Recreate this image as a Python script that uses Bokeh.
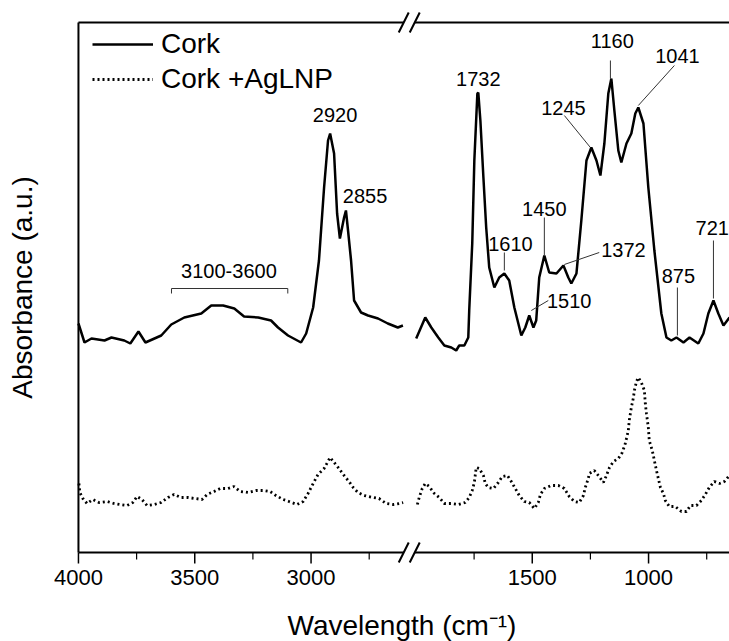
import numpy as np
from bokeh.plotting import figure
from bokeh.models import (ColumnDataSource, FixedTicker, LinearAxis, Range1d,
                          Legend, LegendItem)
from bokeh.core.properties import value
from bokeh.embed import file_html
from bokeh.resources import INLINE

# ---------------- data (wavenumber cm^-1, absorbance a.u.) ----------------
cork_hi_w = [4000, 3974, 3944, 3888, 3858, 3803, 3777, 3742, 3712, 3644, 3601, 3545,
             3472, 3429, 3378, 3330, 3288, 3227, 3172, 3142, 3099, 3043, 3021, 2991,
             2966, 2944, 2927, 2918, 2901, 2888, 2876, 2858, 2850, 2841, 2828, 2815,
             2785, 2755, 2712, 2670, 2627, 2605]
cork_hi_a = [2.29, 2.10, 2.14, 2.12, 2.15, 2.12, 2.09, 2.21, 2.10, 2.17, 2.28, 2.35,
             2.39, 2.47, 2.47, 2.44, 2.36, 2.35, 2.32, 2.25, 2.17, 2.10, 2.19, 2.45,
             2.92, 3.65, 4.12, 4.19, 3.99, 3.39, 3.14, 3.35, 3.42, 3.22, 2.92, 2.52,
             2.40, 2.37, 2.34, 2.29, 2.25, 2.27]

cork_lo_w = [1999, 1960, 1934, 1904, 1878, 1848, 1827, 1814, 1792, 1775, 1771, 1758,
             1749, 1736, 1732, 1723, 1710, 1698, 1685, 1663, 1642, 1620, 1599, 1577,
             1547, 1530, 1513, 1495, 1483, 1470, 1448, 1427, 1396, 1366, 1345, 1332,
             1310, 1289, 1267, 1246, 1224, 1207, 1190, 1173, 1160, 1147, 1130, 1117,
             1095, 1074, 1057, 1044, 1022, 1001, 975, 945, 923, 902, 880, 850,
             824, 786, 764, 743, 721, 700, 678, 652]
cork_lo_a = [2.14, 2.35, 2.25, 2.15, 2.07, 2.05, 2.02, 2.07, 2.07, 2.15, 2.42, 3.09,
             3.92, 4.59, 4.60, 4.32, 3.75, 3.25, 2.85, 2.65, 2.75, 2.79, 2.72, 2.45,
             2.17, 2.25, 2.37, 2.25, 2.32, 2.75, 2.97, 2.80, 2.79, 2.87, 2.75, 2.69,
             2.79, 3.32, 3.92, 4.05, 3.92, 3.77, 4.09, 4.59, 4.74, 4.42, 4.02, 3.90,
             4.09, 4.19, 4.39, 4.45, 4.29, 3.65, 3.02, 2.39, 2.15, 2.12, 2.15, 2.10,
             2.15, 2.09, 2.19, 2.39, 2.52, 2.39, 2.27, 2.35]

ag_hi_w = [3998, 3994, 3981, 3963, 3938, 3912, 3877, 3847, 3822, 3791, 3766, 3748,
           3727, 3705, 3675, 3645, 3615, 3589, 3559, 3529, 3499, 3469, 3447, 3417,
           3391, 3357, 3331, 3305, 3271, 3237, 3202, 3176, 3151, 3120, 3095, 3060,
           3034, 3013, 2991, 2970, 2944, 2918, 2897, 2880, 2858, 2837, 2819, 2798,
           2772, 2733, 2708, 2677, 2647, 2621, 2604]
ag_hi_a = [0.69, 0.60, 0.54, 0.49, 0.53, 0.50, 0.51, 0.49, 0.48, 0.47, 0.50, 0.56,
           0.53, 0.47, 0.48, 0.50, 0.55, 0.58, 0.55, 0.55, 0.54, 0.53, 0.58, 0.61,
           0.64, 0.64, 0.66, 0.61, 0.60, 0.62, 0.62, 0.61, 0.57, 0.53, 0.51, 0.48,
           0.51, 0.59, 0.69, 0.78, 0.84, 0.95, 0.89, 0.84, 0.77, 0.71, 0.65, 0.60,
           0.57, 0.55, 0.54, 0.49, 0.48, 0.49, 0.50]

ag_lo_w = [1994, 1986, 1973, 1960, 1943, 1921, 1900, 1878, 1848, 1818, 1788, 1771,
           1758, 1749, 1741, 1728, 1710, 1702, 1689, 1667, 1646, 1629, 1607, 1590,
           1573, 1556, 1534, 1513, 1491, 1474, 1465, 1448, 1418, 1388, 1362, 1341,
           1319, 1298, 1280, 1272, 1259, 1255, 1233, 1216, 1194, 1181, 1168, 1151,
           1130, 1113, 1100, 1087, 1083, 1074, 1065, 1061, 1052, 1044, 1031, 1018,
           1014, 1009, 1001, 997, 984, 975, 966, 958, 949, 936, 928, 911,
           885, 859, 837, 820, 794, 773, 756, 739, 717, 695, 674, 652]
ag_lo_a = [0.48, 0.55, 0.64, 0.69, 0.66, 0.59, 0.55, 0.49, 0.49, 0.48, 0.50, 0.55,
           0.62, 0.70, 0.85, 0.84, 0.77, 0.69, 0.65, 0.64, 0.70, 0.76, 0.77, 0.71,
           0.64, 0.57, 0.51, 0.50, 0.44, 0.50, 0.58, 0.64, 0.67, 0.67, 0.64, 0.56,
           0.51, 0.50, 0.57, 0.65, 0.74, 0.79, 0.82, 0.77, 0.70, 0.77, 0.85, 0.91,
           0.94, 1.00, 1.09, 1.22, 1.32, 1.45, 1.55, 1.62, 1.71, 1.75, 1.70, 1.62,
           1.49, 1.39, 1.25, 1.12, 1.02, 0.92, 0.82, 0.74, 0.65, 0.59, 0.52, 0.46,
           0.46, 0.41, 0.41, 0.47, 0.47, 0.52, 0.58, 0.65, 0.71, 0.69, 0.71, 0.77]

series_names = ["Cork", "Cork +AgLNP"]

major_ticks = [4000, 3500, 3000, 1500, 1000]
minor_ticks = [3750, 3250, 2750, 1750, 1250, 750]

# peak annotations: label, text (w, a), leader line (w0, a0, w1, a1)
peak_labels = ["2920", "2855", "1732", "1160", "1041", "1245", "1450", "1610",
               "1372", "1510", "875", "721", "3100-3600"]
peak_text_w = [2897, 2768, 1732, 1156, 876, 1366, 1448, 1594, 1108, 1341, 872, 726, 3353]
peak_text_a = [4.38, 3.57, 4.74, 5.12, 4.97, 4.45, 3.44, 3.09, 3.03, 2.52, 2.77, 3.25, 2.82]
lead_w0 = [1164, 1044, 1362, 1448, 1620, 1362, 1504, 876, 721]
lead_a0 = [4.92, 4.47, 4.37, 3.35, 3.00, 2.88, 2.42, 2.65, 3.12]
lead_w1 = [1164, 889, 1250, 1448, 1620, 1212, 1431, 876, 721]
lead_a1 = [4.74, 4.87, 4.05, 2.97, 2.82, 3.00, 2.52, 2.17, 2.54]
bracket_w = [3600, 3100]
bracket_a = [2.64, 2.59]

# ---------------- broken axis mapping ----------------
LEFT_START, LEFT_END = 4000, 2578
RIGHT_START, RIGHT_END = 2029, 652
GAP = LEFT_END - RIGHT_START


def u(w):
    w = np.asarray(w, dtype=float)
    return np.where(w >= 2300, LEFT_START - w, LEFT_START - w - GAP)


BREAK_U = float(u(LEFT_END))
X_END = float(u(RIGHT_END))
Y_TOP = 5.30

FRAME_W, FRAME_H = 655, 554
X0 = -17.0
PXU = (X_END - X0) / FRAME_W      # data units per pixel (x)
PXA = 0.01                        # data units per pixel (y)
Y0, Y1 = -12 * PXA, Y_TOP + 12 * PXA

FONT = "Liberation Sans"

p = figure(frame_width=FRAME_W, frame_height=FRAME_H, output_backend="svg",
           toolbar_location=None, x_range=Range1d(X0, X_END), y_range=Range1d(Y0, Y1),
           min_border_left=74, min_border_right=0, min_border_top=10,
           min_border_bottom=60, x_axis_location=None, y_axis_location=None)
p.outline_line_color = None
p.grid.visible = False
p.background_fill_color = "white"
p.border_fill_color = "white"

# axes (labels only; box lines drawn below so the break can cross them)
xaxis = LinearAxis(ticker=FixedTicker(ticks=[float(t) for t in u(major_ticks)]))
xaxis.major_label_overrides = {float(t): str(w) for t, w in zip(u(major_ticks), major_ticks)}
xaxis.axis_label = "Wavelength (cm\u207b\u00b9)"
xaxis.axis_line_color = None
xaxis.major_tick_line_color = None
xaxis.minor_tick_line_color = None
xaxis.major_tick_out = 0
xaxis.major_tick_in = 0
xaxis.minor_tick_out = 0
xaxis.minor_tick_in = 0
xaxis.major_label_text_font = FONT
xaxis.major_label_text_font_size = "22px"
xaxis.major_label_text_color = "black"
xaxis.major_label_standoff = 5
xaxis.axis_label_text_font = FONT
xaxis.axis_label_text_font_size = "28px"
xaxis.axis_label_text_font_style = "normal"
xaxis.axis_label_text_color = "black"
xaxis.axis_label_standoff = 22
p.add_layout(xaxis, "below")

yaxis = LinearAxis(ticker=FixedTicker(ticks=[]))
yaxis.axis_label = "Absorbance (a.u.)"
yaxis.axis_line_color = None
yaxis.major_tick_out = 0
yaxis.major_tick_in = 0
yaxis.minor_tick_out = 0
yaxis.minor_tick_in = 0
yaxis.axis_label_text_font = FONT
yaxis.axis_label_text_font_size = "28px"
yaxis.axis_label_text_font_style = "normal"
yaxis.axis_label_text_color = "black"
yaxis.axis_label_standoff = 37
p.add_layout(yaxis, "left")

# spectra
r1a = p.line(u(cork_hi_w), cork_hi_a, line_color="black", line_width=2.5)
r1b = p.line(u(cork_lo_w), cork_lo_a, line_color="black", line_width=2.5)
r2a = p.line(u(ag_hi_w), ag_hi_a, line_color="black", line_width=2.8, line_dash="2 3")
r2b = p.line(u(ag_lo_w), ag_lo_a, line_color="black", line_width=2.8, line_dash="2 3")

# plot box (left, bottom, top) and x ticks
p.segment(x0=[0, 0, 0], y0=[0, 0, Y_TOP], x1=[0, X_END, X_END], y1=[Y_TOP, 0, Y_TOP],
          line_color="black", line_width=2)
mt = u(major_ticks)
p.segment(x0=mt, y0=[0] * len(mt), x1=mt, y1=[-11 * PXA] * len(mt),
          line_color="black", line_width=1.5)
nt = u(minor_ticks)
p.segment(x0=nt, y0=[0] * len(nt), x1=nt, y1=[-7 * PXA] * len(nt),
          line_color="black", line_width=1.2)

# axis break marks
for yb in (0, Y_TOP):
    p.segment(x0=[BREAK_U - 5.5 * PXU], y0=[yb], x1=[BREAK_U + 5.5 * PXU], y1=[yb],
              line_color="white", line_width=4)
    for dx in (-5.5, 5.5):
        c = BREAK_U + dx * PXU
        p.segment(x0=[c - 5 * PXU], y0=[yb - 10 * PXA], x1=[c + 5 * PXU],
                  y1=[yb + 10 * PXA], line_color="black", line_width=2)

# annotations
p.segment(x0=u(lead_w0), y0=lead_a0, x1=u(lead_w1), y1=lead_a1,
          line_color="#333333", line_width=1)
bu = u(bracket_w)
p.multi_line(xs=[[bu[0], bu[0], bu[1], bu[1]]],
             ys=[[bracket_a[1], bracket_a[0], bracket_a[0], bracket_a[1]]],
             line_color="#333333", line_width=1)
src = ColumnDataSource(dict(x=u(peak_text_w), y=peak_text_a, t=peak_labels))
p.text(x="x", y="y", text="t", source=src, text_font=value(FONT),
       text_font_size="20px", text_align="center", text_baseline="middle",
       text_color="black")

legend = Legend(items=[LegendItem(label=series_names[0], renderers=[r1a]),
                       LegendItem(label=series_names[1], renderers=[r2a])],
                location="top_left", margin=18, padding=6, spacing=3,
                glyph_width=61, label_standoff=8,
                label_text_font=FONT, label_text_font_size="28px",
                label_text_color="black",
                border_line_color=None, background_fill_alpha=0)
p.add_layout(legend)

open("out.html", "w").write(file_html(p, INLINE))
